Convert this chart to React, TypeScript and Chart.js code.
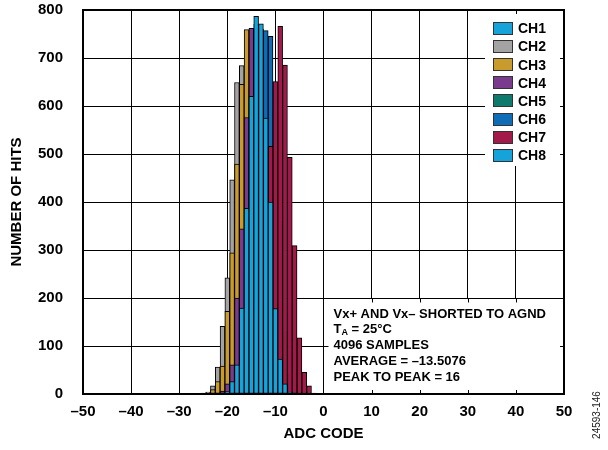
import React, { useEffect, useRef } from 'react';
import { Chart, registerables } from 'chart.js';

Chart.register(...registerables);

// ---- data ----
const codes = [-25, -24, -23, -22, -21, -20, -19, -18, -17, -16, -15, -14, -13, -12, -11, -10, -9, -8, -7, -6, -5, -4, -3, -2];
const channelNames = ['CH1', 'CH2', 'CH3', 'CH4', 'CH5', 'CH6', 'CH7', 'CH8'];
const channelColors = ['#15A3DA', '#A3A3A3', '#C99A2C', '#7A3A8D', '#0E7A6D', '#0F6CB6', '#A2194A', '#15A3DA'];
const ch1 = [0, 0, 0, 0, 0, 0, 20, 50, 150, 380, 600, 770, 760, 580, 420, 200, 80, 25, 5, 0, 0, 0, 0, 0];
const ch2 = [2, 4, 17, 56, 141, 242, 446, 649, 684, 700, 560, 330, 140, 40, 10, 0, 0, 0, 0, 0, 0, 0, 0, 0];
const ch3 = [0, 1, 9, 26, 58, 172, 294, 479, 645, 759, 740, 530, 280, 90, 20, 5, 0, 0, 0, 0, 0, 0, 0, 0];
const ch4 = [0, 0, 0, 2, 6, 21, 61, 200, 344, 576, 762, 760, 680, 420, 210, 80, 25, 5, 0, 0, 0, 0, 0, 0];
const ch5 = [0, 0, 0, 0, 0, 0, 0, 15, 60, 250, 500, 740, 760, 700, 560, 330, 130, 40, 10, 0, 0, 0, 0, 0];
const ch6 = [0, 0, 0, 0, 0, 0, 0, 0, 15, 60, 200, 480, 700, 757, 745, 590, 360, 130, 40, 10, 0, 0, 0, 0];
const ch7 = [0, 0, 0, 0, 0, 0, 0, 0, 0, 5, 15, 45, 130, 300, 516, 651, 766, 685, 493, 309, 117, 45, 17, 2];
const ch8 = [0, 0, 0, 0, 0, 5, 26, 61, 179, 387, 620, 787, 771, 575, 400, 178, 73, 21, 4, 0, 0, 0, 0, 0];
const channelValues = [ch1, ch2, ch3, ch4, ch5, ch6, ch7, ch8];

const xMin = -50;
const xMax = 50;
const xStep = 10;
const yMin = 0;
const yMax = 800;
const yStep = 100;

const xTitle = 'ADC CODE';
const yTitle = 'NUMBER OF HITS';
const noteLines = ['Vx+ AND Vx\u2013 SHORTED TO AGND', 'T|A| = 25°C', '4096 SAMPLES', 'AVERAGE = \u201313.5076', 'PEAK TO PEAK = 16'];
const figureId = '24593-146';

const FONT = '"Liberation Sans", Arial, Helvetica, sans-serif';

const overlayPlugin = {
  id: 'overlayPlugin',
  beforeDatasetsDraw(chart: any) {
    const { ctx, chartArea: a, scales } = chart;
    const x = scales.x;
    const y = scales.y;
    ctx.save();
    ctx.fillStyle = '#ffffff';
    const al = (v: number) => Math.round(v) + 0.5;
    // note box cover
    const x0 = al(x.getPixelForValue(0));
    const y200 = al(y.getPixelForValue(200));
    ctx.fillRect(x0 + 0.5, y200 + 0.5, a.right - x0 - 1, a.bottom - y200 - 1);
    // legend box cover
    const lx = a.right - 79;
    const ly = a.top + 1;
    const lh = 155;
    ctx.fillRect(lx, ly, a.right - lx - 1, lh);

    ctx.strokeStyle = '#000';
    ctx.lineWidth = 1;
    ctx.beginPath();
    const t = 4;
    // note box ticks
    for (let v = 10; v < xMax; v += xStep) {
      const px = al(x.getPixelForValue(v));
      ctx.moveTo(px, y200);
      ctx.lineTo(px, y200 + t);
      ctx.moveTo(px, a.bottom);
      ctx.lineTo(px, a.bottom - t);
    }
    const y100 = al(y.getPixelForValue(100));
    ctx.moveTo(x0, y100);
    ctx.lineTo(x0 + t, y100);
    ctx.moveTo(a.right, y100);
    ctx.lineTo(a.right - t, y100);
    // legend box ticks
    const x40 = al(x.getPixelForValue(40));
    ctx.moveTo(x40, a.top);
    ctx.lineTo(x40, a.top + t);
    for (let v = 500; v < yMax; v += yStep) {
      const py = al(y.getPixelForValue(v));
      ctx.moveTo(a.right, py);
      ctx.lineTo(a.right - t, py);
    }
    ctx.stroke();
    ctx.restore();
  },
  afterDatasetsDraw(chart: any) {
    const { ctx, chartArea: a, scales } = chart;
    const x = scales.x;
    const y = scales.y;
    ctx.save();
    // frame
    ctx.strokeStyle = '#000';
    ctx.lineWidth = 2;
    ctx.strokeRect(a.left, a.top, a.right - a.left, a.bottom - a.top);

    // legend
    const lx = a.right - 71;
    ctx.font = `bold 14px ${FONT}`;
    ctx.textBaseline = 'middle';
    ctx.textAlign = 'left';
    channelNames.forEach((name, i) => {
      const cy = a.top + 18.5 + i * 18.1;
      ctx.fillStyle = channelColors[i];
      ctx.fillRect(lx, Math.round(cy - 6.5), 20, 13);
      ctx.strokeStyle = '#333';
      ctx.lineWidth = 1;
      ctx.strokeRect(lx + 0.5, Math.round(cy - 6.5) + 0.5, 19, 12);
      ctx.fillStyle = '#000';
      ctx.fillText(name, lx + 25, cy + 1);
    });

    // note text
    const nx = x.getPixelForValue(0) + 10;
    const ny = y.getPixelForValue(200) + 16;
    noteLines.forEach((line, i) => {
      const cy = ny + i * 15.8;
      ctx.fillStyle = '#000';
      const parts = line.split('|');
      let cx = nx;
      parts.forEach((p, j) => {
        if (j === 1) {
          ctx.font = `bold 9px ${FONT}`;
          ctx.fillText(p, cx, cy + 3);
        } else {
          ctx.font = `bold 13px ${FONT}`;
          ctx.fillText(p, cx, cy);
        }
        cx += ctx.measureText(p).width;
      });
    });
    ctx.restore();
  },
  afterDraw(chart: any) {
    const { ctx, chartArea: a } = chart;
    ctx.save();
    ctx.fillStyle = '#000';
    ctx.font = `bold 15px ${FONT}`;
    ctx.textAlign = 'center';
    ctx.textBaseline = 'middle';
    ctx.fillText(xTitle, (a.left + a.right) / 2, 434);
    ctx.save();
    ctx.translate(17, (a.top + a.bottom) / 2);
    ctx.rotate(-Math.PI / 2);
    ctx.fillText(yTitle, 0, 0);
    ctx.restore();
    ctx.save();
    ctx.font = `10px ${FONT}`;
    ctx.fillStyle = '#222';
    ctx.translate(597, 415);
    ctx.rotate(-Math.PI / 2);
    ctx.fillText(figureId, 0, 0);
    ctx.restore();
    ctx.restore();
  },
};

export default function App() {
  const canvasRef = useRef<HTMLCanvasElement | null>(null);

  useEffect(() => {
    const canvas = canvasRef.current;
    if (!canvas) return;
    const datasets = channelNames.map((name, i) => ({
      label: name,
      data: codes
        .map((c, k) => ({ x: c, y: channelValues[i][k] }))
        .filter((p) => p.y > 0),
      backgroundColor: channelColors[i],
      borderColor: '#000',
      borderWidth: 1,
      borderSkipped: false as const,
      order: 8 - i,
      grouped: false,
      barPercentage: 1,
      categoryPercentage: 1,
    }));
    const chart = new Chart(canvas, {
      type: 'bar',
      data: { datasets: datasets as any },
      options: {
        responsive: false,
        animation: false,
        maintainAspectRatio: false,
        layout: { padding: { top: 10, right: 44, left: 0, bottom: 0 } },
        plugins: {
          legend: { display: false },
          tooltip: { enabled: false },
          title: { display: false },
        },
        scales: {
          x: {
            type: 'linear',
            min: xMin,
            max: xMax,
            offset: false,
            grid: { color: '#000', lineWidth: 1, drawTicks: false, offset: false },
            border: { display: false },
            ticks: {
              stepSize: xStep,
              padding: 9,
              color: '#000',
              font: { family: FONT, size: 15, weight: 'bold' },
              maxRotation: 0,
              callback: (v: any) => String(v).replace('-', '\u2013'),
            },
            afterFit: (s: any) => {
              s.height = 56;
              s.paddingLeft = 0;
              s.paddingRight = 0;
            },
          },
          y: {
            type: 'linear',
            min: yMin,
            max: yMax,
            grid: { color: '#000', lineWidth: 1, drawTicks: false },
            border: { display: false },
            ticks: {
              stepSize: yStep,
              padding: 20,
              color: '#000',
              font: { family: FONT, size: 15, weight: 'bold' },
            },
            afterFit: (s: any) => {
              s.width = 83;
              s.paddingTop = 0;
              s.paddingBottom = 0;
            },
          },
        },
      } as any,
      plugins: [overlayPlugin],
    });
    return () => chart.destroy();
  }, []);

  return (
    <div style={{ position: 'absolute', left: 0, top: 0, width: 608, height: 450, background: '#fff' }}>
      <canvas ref={canvasRef} width={608} height={450} />
    </div>
  );
}
